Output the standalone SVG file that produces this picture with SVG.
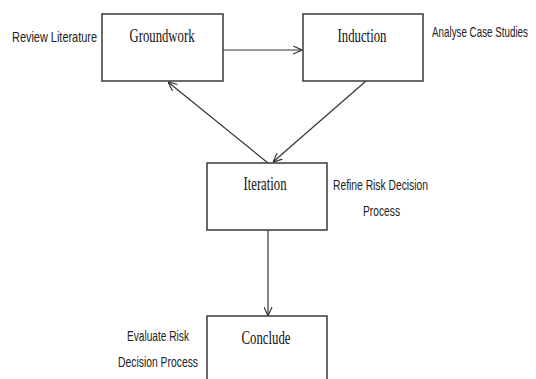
<svg xmlns="http://www.w3.org/2000/svg" width="536" height="379" viewBox="0 0 536 379">
<style>
.box{fill:#fff;stroke:#3a3a3a;stroke-width:1.5}
.title{font-family:"Liberation Serif","Times New Roman",serif;font-size:19px;fill:#111;text-anchor:middle}
.note{font-family:"Liberation Sans Narrow","Liberation Sans",Arial,sans-serif;font-size:15px;fill:#222}
.conn{stroke:#333;stroke-width:1.2;fill:none;marker-end:url(#arr)}
</style>
<defs>
<marker id="arr" viewBox="0 0 10 10" refX="10" refY="5" markerWidth="9" markerHeight="9" markerUnits="userSpaceOnUse" orient="auto">
<polyline points="0,0.5 10,5 0,9.5" fill="none" stroke="#333" stroke-width="1.3"/>
</marker>
</defs>
<rect width="536" height="379" fill="#fff"/>
<g id="connectors">
<line class="conn" x1="223" y1="50" x2="302" y2="50"/>
<line class="conn" x1="268" y1="163" x2="168" y2="82"/>
<line class="conn" x1="366" y1="81" x2="273" y2="162"/>
<line class="conn" x1="268" y1="230" x2="268" y2="316"/>
</g>
<g id="groundwork">
<rect class="box" x="102" y="14" width="121" height="67"/>
<text class="title" x="162" y="42" textLength="65" lengthAdjust="spacingAndGlyphs">Groundwork</text>
</g>
<g id="induction">
<rect class="box" x="303" y="14" width="120" height="67"/>
<text class="title" x="362" y="42" textLength="49" lengthAdjust="spacingAndGlyphs">Induction</text>
</g>
<g id="iteration">
<rect class="box" x="207" y="163" width="120" height="67"/>
<text class="title" x="265" y="190" textLength="43" lengthAdjust="spacingAndGlyphs">Iteration</text>
</g>
<g id="conclude">
<rect class="box" x="207" y="316" width="120" height="80"/>
<text class="title" x="266" y="344" textLength="49" lengthAdjust="spacingAndGlyphs">Conclude</text>
</g>
<g id="labels">
<text class="note" x="12" y="42" textLength="85" lengthAdjust="spacingAndGlyphs">Review Literature</text>
<text class="note" transform="translate(432,37) scale(0.655,1)" x="0" y="0">Analyse Case Studies</text>
<text class="note" x="333" y="190" textLength="95" lengthAdjust="spacingAndGlyphs">Refine Risk Decision</text>
<text class="note" x="363" y="216" textLength="37" lengthAdjust="spacingAndGlyphs">Process</text>
<text class="note" x="127" y="341" textLength="62" lengthAdjust="spacingAndGlyphs">Evaluate Risk</text>
<text class="note" x="118" y="367" textLength="80" lengthAdjust="spacingAndGlyphs">Decision Process</text>
</g>
</svg>
